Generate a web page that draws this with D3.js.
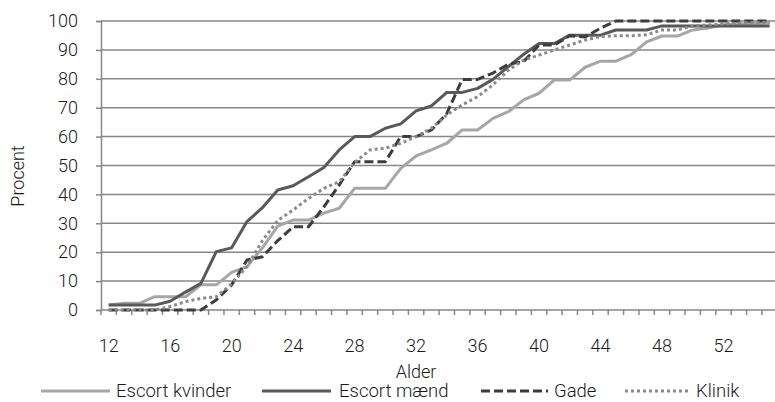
<!DOCTYPE html>
<html><head><meta charset="utf-8">
<script src="https://cdn.jsdelivr.net/npm/d3@7"></script>
<style>
html,body{margin:0;padding:0;background:#fff;}
svg text{font-family:Roboto,"Noto Sans",sans-serif;fill:#1a1a1a;font-weight:300;}
</style></head>
<body>
<svg id="chart" width="775" height="402"></svg>
<script>
const ages = d3.range(12, 56);
const yTicks = [0,10,20,30,40,50,60,70,80,90,100];
const xTickLabels = [12,16,20,24,28,32,36,40,44,48,52];
const seriesNames = ["Escort kvinder","Escort mænd","Gade","Klinik"];

const escortKvinder = [1.7,2.3,2.3,4.6,4.6,4.6,8.7,8.7,13,15,21.5,29,31.1,31.1,33.5,35.2,42.1,42.1,42.1,49,53.3,55.4,57.7,62.3,62.3,66.3,68.6,72.7,75,79.6,79.6,84,86.1,86.1,88.4,92.8,94.8,94.8,96.9,97.6,98.7,99,99.2,99.3];
const escortMaend = [1.7,1.7,1.7,1.7,3,6.2,9.2,20.2,21.5,30.6,35.4,41.5,43,46.1,49.3,55.4,60,60,62.9,64.4,68.9,70.6,75.3,75.3,76.7,79.8,84.2,88.5,92.2,92.2,95.1,95.1,95.1,96.9,96.9,96.9,98.3,98.3,98.3,98.3,98.3,98.3,98.3,98.3];
const gade = [0,0,0,0,0,0,0,3.5,8.7,17.3,18.4,24,28.8,28.8,35.7,43.3,51.3,51.3,51.3,60,60,62.3,68,79.8,79.8,82,85,86,91.7,91.7,94.9,94.5,97.5,100,100,100,100,100,100,100,100,100,100,100];
const klinik = [0,0,0,0,1.2,2.9,4,4.6,9,15,24,31,34.6,38.6,42.1,44.4,51,55.4,56,57.7,60,62.9,67.5,71,73.8,77.9,83,86.5,88.2,90,91.7,93.4,94.6,94.9,94.9,95.2,96.9,96.9,98.3,98.6,99,99.3,99.5,99.5];

const seriesData = [escortKvinder, escortMaend, gade, klinik];
const styles = [
  {color:"#a6a6a6", dash:null},
  {color:"#595959", dash:null},
  {color:"#3d3d3d", dash:"9,4"},
  {color:"#8a8a8a", dash:"3,3"}
];

const svg = d3.select("#chart");
const mLeft = 101, mTop = 21, mBottom = 310, step = 15.37;
const x = d3.scaleBand().domain(ages).range([mLeft, mLeft + ages.length*step]).paddingInner(0).paddingOuter(0);
const y = d3.scaleLinear().domain([0,100]).range([mBottom, mTop]);
const cx = a => x(a) + x.bandwidth()/2;
const mRight = mLeft + ages.length*step;

// gridlines
svg.append("g").selectAll("line").data(yTicks.filter(t=>t>0)).join("line")
  .attr("x1", mLeft).attr("x2", mRight).attr("y1", d=>y(d)).attr("y2", d=>y(d))
  .attr("stroke","#878787").attr("stroke-width",1.5);

// y axis
const yAxis = svg.append("g").attr("transform",`translate(${mLeft},0)`)
  .call(d3.axisLeft(y).tickValues(yTicks).tickSize(5).tickPadding(18));
yAxis.select(".domain").attr("stroke","#878787").attr("stroke-width",1.5);
yAxis.selectAll(".tick line").attr("stroke","#878787").attr("stroke-width",1.5);
yAxis.selectAll("text").style("font-size","18px").style("font-family","Roboto");

// x axis
const xAxis = svg.append("g").attr("transform",`translate(0,${mBottom})`)
  .call(d3.axisBottom(x).tickValues(xTickLabels).tickSize(0).tickPadding(29));
xAxis.select(".domain").remove();
xAxis.selectAll("text").style("font-size","18px").style("font-family","Roboto");
svg.append("line").attr("x1",mLeft).attr("x2",mRight).attr("y1",mBottom).attr("y2",mBottom)
  .attr("stroke","#878787").attr("stroke-width",1.5);
svg.append("g").selectAll("line").data(ages.concat([null])).join("line")
  .attr("x1", d=> d===null ? mRight : x(d)).attr("x2", d=> d===null ? mRight : x(d))
  .attr("y1", mBottom).attr("y2", mBottom+5)
  .attr("stroke","#878787").attr("stroke-width",1.5);

// lines
const line = d3.line().x((d,i)=>cx(ages[i])).y(d=>y(d));
seriesData.forEach((s,k)=>{
  svg.append("path").datum(s).attr("d", line)
    .attr("fill","none").attr("stroke", styles[k].color).attr("stroke-width",3)
    .attr("stroke-linejoin","round")
    .attr("stroke-dasharray", styles[k].dash);
});

// axis titles
svg.append("text").attr("transform","translate(24,176) rotate(-90)")
  .attr("text-anchor","middle").style("font-size","18px").text("Procent");
svg.append("text").attr("x",416).attr("y",378).attr("text-anchor","middle")
  .style("font-size","18px").text("Alder");

// legend
const legendPos = [{x1:41,x2:110,tx:116},{x1:262,x2:331,tx:339},{x1:481,x2:548,tx:554},{x1:625,x2:689,tx:696}];
seriesNames.forEach((n,k)=>{
  const p = legendPos[k];
  svg.append("line").attr("x1",p.x1).attr("x2",p.x2).attr("y1",391).attr("y2",391)
    .attr("stroke",styles[k].color).attr("stroke-width",3).attr("stroke-dasharray",styles[k].dash);
  svg.append("text").attr("x",p.tx).attr("y",397).style("font-size","18.5px").text(n);
});
</script>
</body></html>
